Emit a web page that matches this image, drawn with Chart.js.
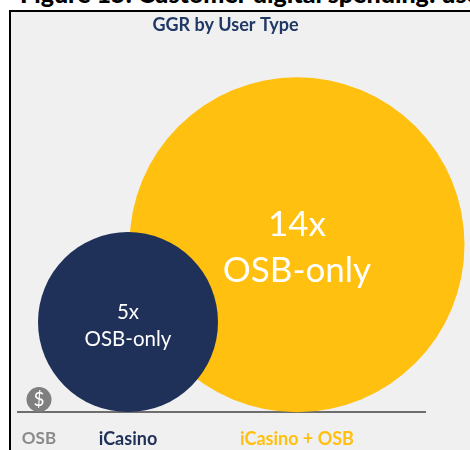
<!DOCTYPE html>
<html><head><meta charset="utf-8">
<style>
html,body{margin:0;padding:0;background:#fff;overflow:hidden}
#wrap{position:relative;width:470px;height:450px;overflow:hidden}
#head{position:absolute;left:20px;top:-22px;font:900 25px Lato,sans-serif;line-height:30px;color:#000;white-space:nowrap}
#panel{position:absolute;left:9px;top:10px;right:0;bottom:0;background:#f0f0f0;border-left:2px solid #000;border-top:2px solid #000}
canvas{position:absolute;left:0;top:0}
</style>
<script src="https://cdn.jsdelivr.net/npm/chart.js@4/dist/chart.umd.min.js"></script>
</head><body>
<div id="wrap">
<div id="head">Figure 15: Customer digital spending: user type</div>
<div id="panel"></div>
<canvas id="c" width="470" height="450"></canvas>
</div>
<script>
const chartTitle = 'GGR by User Type';
const categories = ['iCasino + OSB', 'iCasino', 'OSB'];
const xCentres = [22.32, 8.8, 1.68];
const bubbleSizes = [13.4, 7.2, 1];
const bubbleLabels = [['14x', 'OSB-only'], ['5x', 'OSB-only'], ['$']];
const bubbleColors = ['#ffc00f', '#1f3059', '#7f7f7f'];
const labelColors = ['#ffc00f', '#1f3059', '#8a8a8a'];
const labelFonts = [35, 20.5, 19];
const lineGaps = [46, 27, 0];
const textShift = [3, 4, 0];
const tickFonts = [18, 18, 17];
const unitPx = 12.5;

const bubbleText = {
  id: 'bubbleText',
  afterLayout(chart) {
    chart.titleBlock.left += 4;
    chart.titleBlock.right += 4;
  },
  afterDatasetsDraw(chart) {
    const ctx = chart.ctx;
    ctx.save();
    ctx.fillStyle = '#fff';
    ctx.textAlign = 'center';
    ctx.textBaseline = 'middle';
    chart.getDatasetMeta(0).data.forEach((el, i) => {
      const lines = bubbleLabels[i];
      ctx.font = labelFonts[i] + 'px Lato, sans-serif';
      lines.forEach((t, k) => {
        ctx.fillText(t, el.x, el.y + textShift[i] + (k - (lines.length - 1) / 2) * lineGaps[i]);
      });
    });
    ctx.restore();
  }
};

new Chart(document.getElementById('c'), {
  type: 'bubble',
  data: {
    labels: categories,
    datasets: [{
      data: categories.map((c, i) => ({ x: xCentres[i], y: bubbleSizes[i], r: bubbleSizes[i] * unitPx })),
      backgroundColor: bubbleColors,
      borderWidth: 0,
      clip: false
    }]
  },
  options: {
    responsive: false,
    animation: false,
    events: [],
    layout: { autoPadding: false, padding: { left: 18, right: 45, top: 0, bottom: 0 } },
    plugins: {
      legend: { display: false },
      tooltip: { enabled: false },
      title: {
        display: true,
        text: chartTitle,
        color: '#1f3864',
        font: { family: 'Lato, sans-serif', size: 18, weight: 'bold', lineHeight: 1.2 },
        padding: { top: 14, bottom: 4 }
      }
    },
    scales: {
      x: {
        type: 'linear',
        min: 0,
        max: 32.56,
        z: 1,
        grid: { display: false },
        border: { display: true, color: '#6e6e6e', width: 2 },
        afterBuildTicks: s => { s.ticks = xCentres.map(v => ({ value: v })); },
        afterFit: s => { s.height = 38; },
        ticks: {
          autoSkip: false,
          maxRotation: 0,
          padding: 8,
          font: ctx => ({ family: 'Lato, sans-serif', size: tickFonts[ctx.index], weight: 'bold' }),
          color: ctx => labelColors[ctx.index],
          callback: (v, i) => categories[i]
        }
      },
      y: { display: false, min: 0, max: 29.82 }
    }
  },
  plugins: [bubbleText]
});
</script>
</body></html>
